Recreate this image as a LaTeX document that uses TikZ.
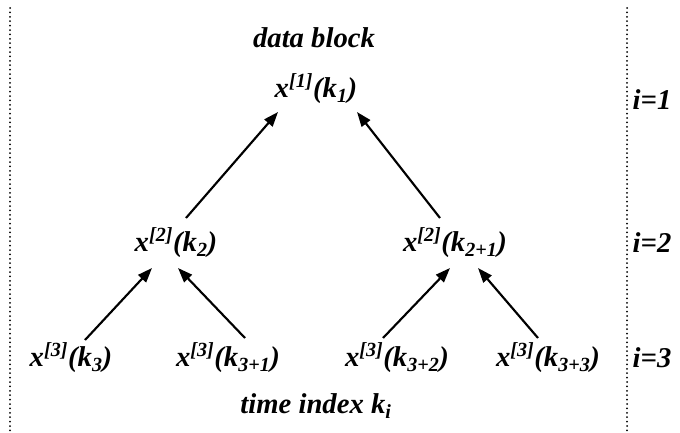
\documentclass[tikz,border=0pt]{standalone}
\usepackage{fontspec}
\setmainfont{Liberation Serif}
\usetikzlibrary{arrows.meta,calc}
\tikzset{
  lbl/.style={font=\fontsize{21.5}{24}\selectfont\bfseries\itshape, inner sep=0pt, anchor=center},
  arr/.style={line width=1.6pt, -{Triangle[length=11pt,width=8pt]}},
  dotline/.style={line width=1.5pt, line cap=round, dash pattern=on 0pt off 3.3pt}
}
\begin{document}
\begin{tikzpicture}[x=0.75pt,y=-0.75pt]
\useasboundingbox (0,0) rectangle (680,432);
\coordinate (lt) at (10,8);
\coordinate (lb) at (10,432);
\coordinate (rt) at (627,8);
\coordinate (rb) at (627,432);
\draw[dotline] (lt) -- (lb);
\draw[dotline] (rt) -- (rb);

\node[lbl] (title) at (314,38) {data block};
\node[lbl] (x1) at (316,89) {x\textsuperscript{[1]}(k\textsubscript{1})};
\node[lbl] (x2a) at (176,243) {x\textsuperscript{[2]}(k\textsubscript{2})};
\node[lbl] (x2b) at (455,243) {x\textsuperscript{[2]}(k\textsubscript{2+1})};
\node[lbl] (x3a) at (71,358) {x\textsuperscript{[3]}(k\textsubscript{3})};
\node[lbl] (x3b) at (228,358) {x\textsuperscript{[3]}(k\textsubscript{3+1})};
\node[lbl] (x3c) at (397,358) {x\textsuperscript{[3]}(k\textsubscript{3+2})};
\node[lbl] (x3d) at (548,358) {x\textsuperscript{[3]}(k\textsubscript{3+3})};
\node[lbl] (i1) at (652,100) {i=1};
\node[lbl] (i2) at (652,243) {i=2};
\node[lbl] (i3) at (652,358) {i=3};
\node[lbl] (time) at (316,406) {time index k\textsubscript{i}};

\draw[arr] ($(x2a)+(10,-25)$) -- ($(x1)+(-38,23)$);
\draw[arr] ($(x2b)+(-15,-25)$) -- ($(x1)+(41,23)$);
\draw[arr] ($(x3a)+(14,-18)$) -- ($(x2a)+(-24,25)$);
\draw[arr] ($(x3b)+(17,-20)$) -- ($(x2a)+(2,25)$);
\draw[arr] ($(x3c)+(-14,-20)$) -- ($(x2b)+(-5,25)$);
\draw[arr] ($(x3d)+(-10,-20)$) -- ($(x2b)+(23,25)$);
\end{tikzpicture}
\end{document}
